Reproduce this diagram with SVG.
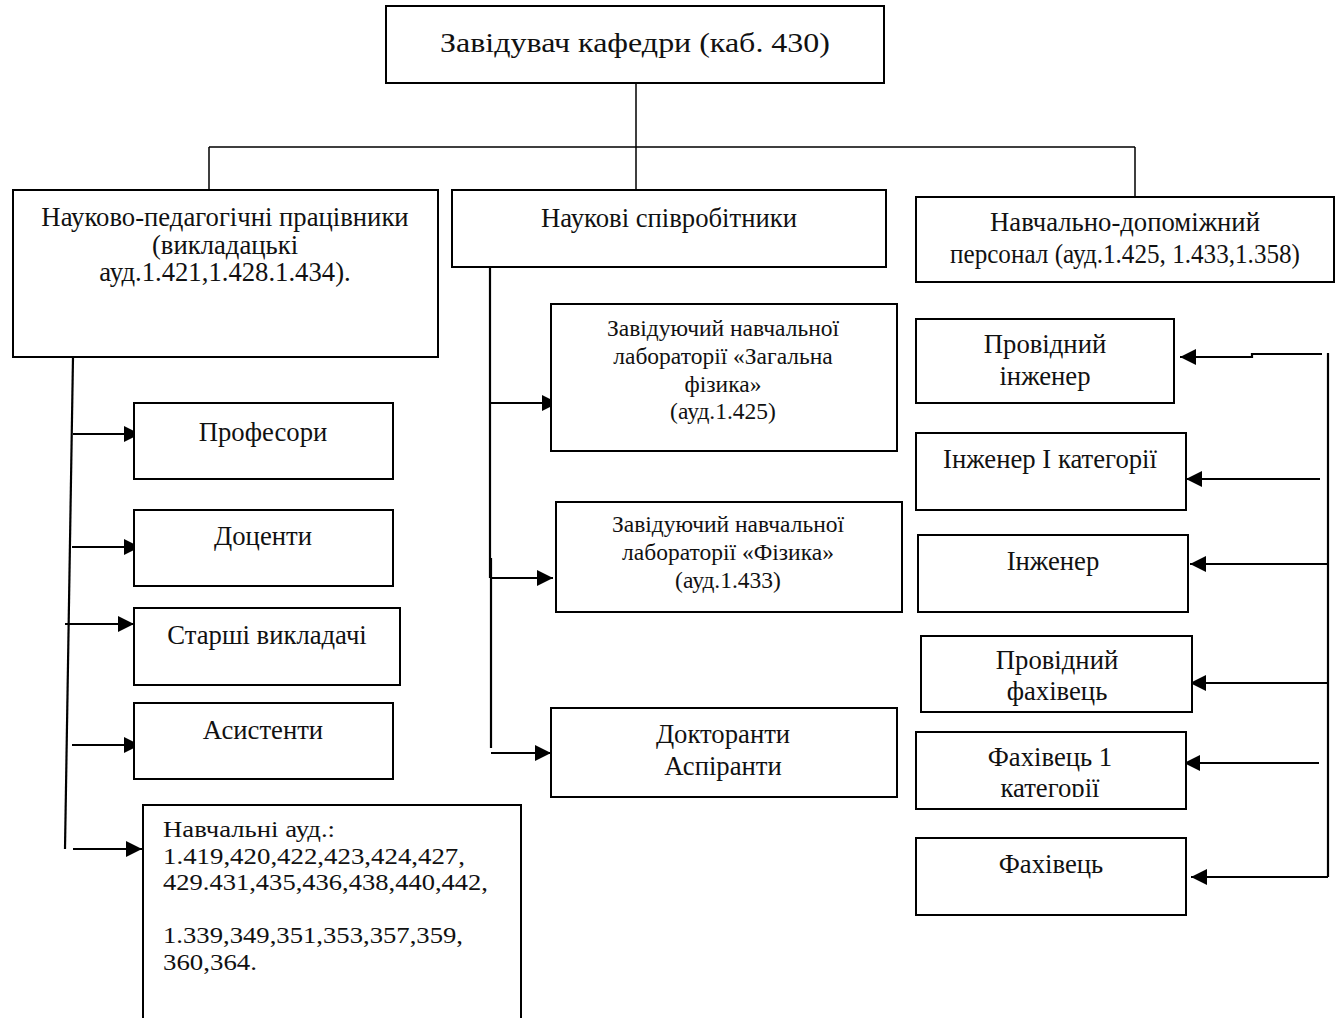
<svg xmlns="http://www.w3.org/2000/svg" width="1339" height="1018" viewBox="0 0 1339 1018">
<style>
.box{fill:#fff;stroke:#000;stroke-width:2}
.t{font-family:"Liberation Serif","Times New Roman",serif;font-size:26.7px;fill:#111;text-anchor:middle}
.s{font-size:23.5px}
.l{text-anchor:start;font-size:23.5px}
.ln{fill:none;stroke:#000;stroke-width:1.5}
.ar{fill:none;stroke:#000;stroke-width:2.2}
</style>
<defs>
<marker id="ah" markerUnits="userSpaceOnUse" markerWidth="17" markerHeight="16" refX="16" refY="8" orient="auto">
<path d="M0,0 L16,8 L0,16 z" fill="#000"/>
</marker>
<clipPath id="clipF1"><rect x="916" y="732" width="270" height="65"/></clipPath>
</defs>
<rect width="1339" height="1018" fill="#fff"/>
<g id="connectors">
<path class="ln" d="M636,83 V147 M209,147 H1135 M209,147 V190 M636,147 V190 M1135,147 V197"/>
<path class="ar" d="M73,357 L65,849"/>
<path class="ar" d="M73,434 H140" marker-end="url(#ah)"/>
<path class="ar" d="M72,547 H140" marker-end="url(#ah)"/>
<path class="ar" d="M65,624 H134" marker-end="url(#ah)"/>
<path class="ar" d="M72,745 H140" marker-end="url(#ah)"/>
<path class="ar" d="M73,849 H142" marker-end="url(#ah)"/>
<path class="ar" d="M490,267 V578 M491,558 V748"/>
<path class="ar" d="M491,403 H558" marker-end="url(#ah)"/>
<path class="ar" d="M491,578 H553" marker-end="url(#ah)"/>
<path class="ar" d="M491,753 H551" marker-end="url(#ah)"/>
<path class="ar" d="M1328,353 V877"/>
<path class="ar" d="M1322,354 H1252 V357 H1180" marker-end="url(#ah)"/>
<path class="ar" d="M1320,479 H1186" marker-end="url(#ah)"/>
<path class="ar" d="M1328,564 H1190" marker-end="url(#ah)"/>
<path class="ar" d="M1328,683 H1190" marker-end="url(#ah)"/>
<path class="ar" d="M1319,763 H1184" marker-end="url(#ah)"/>
<path class="ar" d="M1328,877 H1191" marker-end="url(#ah)"/>
</g>
<g id="head">
<rect class="box" x="386" y="6" width="498" height="77"/>
<text class="t" x="635" y="52" font-size="32" textLength="390" lengthAdjust="spacingAndGlyphs">Завідувач кафедри (каб. 430)</text>
</g>
<g id="npp">
<rect class="box" x="13" y="190" width="425" height="167"/>
<text class="t" x="225" y="226">Науково-педагогічні працівники</text>
<text class="t" x="225" y="254">(викладацькі</text>
<text class="t" x="225" y="281">ауд.1.421,1.428.1.434).</text>
</g>
<g id="ns">
<rect class="box" x="452" y="190" width="434" height="77"/>
<text class="t" x="669" y="227">Наукові співробітники</text>
</g>
<g id="ndp">
<rect class="box" x="916" y="197" width="418" height="85"/>
<text class="t" x="1125" y="231">Навчально-допоміжний</text>
<text class="t" x="1125" y="263" textLength="350" lengthAdjust="spacingAndGlyphs">персонал (ауд.1.425, 1.433,1.358)</text>
</g>
<g id="prof">
<rect class="box" x="134" y="403" width="259" height="76"/>
<text class="t" x="263" y="441">Професори</text>
</g>
<g id="doc">
<rect class="box" x="134" y="510" width="259" height="76"/>
<text class="t" x="263" y="545">Доценти</text>
</g>
<g id="st">
<rect class="box" x="134" y="608" width="266" height="77"/>
<text class="t" x="267" y="644">Старші викладачі</text>
</g>
<g id="as">
<rect class="box" x="134" y="703" width="259" height="76"/>
<text class="t" x="263" y="739">Асистенти</text>
</g>
<g id="aud">
<path class="box" d="M143,1020 V805 H521 V1020"/>
<text class="t l" x="163" y="837" textLength="172" lengthAdjust="spacingAndGlyphs">Навчальні ауд.:</text>
<text class="t l" x="163" y="863.5" textLength="302" lengthAdjust="spacingAndGlyphs">1.419,420,422,423,424,427,</text>
<text class="t l" x="163" y="890" textLength="325" lengthAdjust="spacingAndGlyphs">429.431,435,436,438,440,442,</text>
<text class="t l" x="163" y="943" textLength="300" lengthAdjust="spacingAndGlyphs">1.339,349,351,353,357,359,</text>
<text class="t l" x="163" y="969.5" textLength="94" lengthAdjust="spacingAndGlyphs">360,364.</text>
</g>
<g id="lab1">
<rect class="box" x="551" y="304" width="346" height="147"/>
<text class="t s" x="723" y="336">Завідуючий навчальної</text>
<text class="t s" x="723" y="364">лабораторії «Загальна</text>
<text class="t s" x="723" y="392">фізика»</text>
<text class="t s" x="723" y="419">(ауд.1.425)</text>
</g>
<g id="lab2">
<rect class="box" x="556" y="502" width="346" height="110"/>
<text class="t s" x="728" y="532">Завідуючий навчальної</text>
<text class="t s" x="728" y="560">лабораторії «Фізика»</text>
<text class="t s" x="728" y="588">(ауд.1.433)</text>
</g>
<g id="dokt">
<rect class="box" x="551" y="708" width="346" height="89"/>
<text class="t" x="723" y="743">Докторанти</text>
<text class="t" x="723" y="775">Аспіранти</text>
</g>
<g id="pi">
<rect class="box" x="916" y="319" width="258" height="84"/>
<text class="t" x="1045" y="353">Провідний</text>
<text class="t" x="1045" y="385">інженер</text>
</g>
<g id="i1">
<rect class="box" x="916" y="433" width="270" height="77"/>
<text class="t" x="1050" y="468">Інженер І категорії</text>
</g>
<g id="ing">
<rect class="box" x="918" y="535" width="270" height="77"/>
<text class="t" x="1053" y="570">Інженер</text>
</g>
<g id="pf">
<rect class="box" x="921" y="636" width="271" height="76"/>
<text class="t" x="1057" y="669">Провідний</text>
<text class="t" x="1057" y="700">фахівець</text>
</g>
<g id="f1">
<rect class="box" x="916" y="732" width="270" height="77"/>
<g clip-path="url(#clipF1)">
<text class="t" x="1050" y="766">Фахівець 1</text>
<text class="t" x="1050" y="797">категорії</text>
</g>
</g>
<g id="f">
<rect class="box" x="916" y="838" width="270" height="77"/>
<text class="t" x="1051" y="873">Фахівець</text>
</g>
</svg>
